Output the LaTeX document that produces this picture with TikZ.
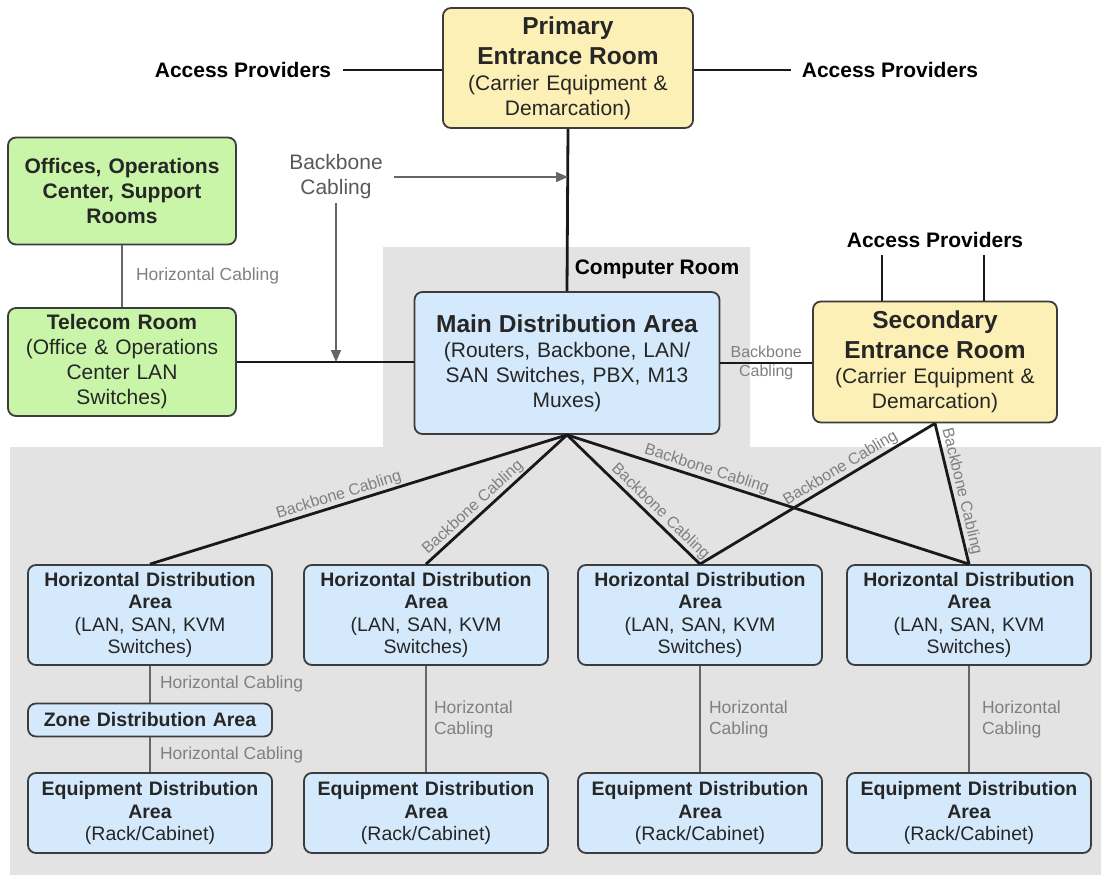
\documentclass[tikz,border=0pt]{standalone}
\usepackage{fontspec}
\setmainfont{Liberation Sans}
\usetikzlibrary{positioning,arrows.meta}

\definecolor{entryyellow}{HTML}{FCF0B6}
\definecolor{officegreen}{HTML}{C9F5A8}
\definecolor{areablue}{HTML}{D4E9FB}
\definecolor{roomgray}{HTML}{E3E3E3}
\definecolor{boxline}{HTML}{3C3C3C}

\newcommand{\ttlfont}{\fontsize{24.5}{30}\selectfont\bfseries}
\newcommand{\midfont}{\fontsize{21}{25}\selectfont}
\newcommand{\smfont}{\fontsize{19.5}{22.5}\selectfont}
\newcommand{\lblfont}{\fontsize{17.5}{21}\selectfont}
\newcommand{\bbfont}{\fontsize{16}{19}\selectfont}

\begin{document}
\begin{tikzpicture}[x=1pt,y=-1pt,
		box/.style={draw=boxline,line width=1.8pt,rounded corners=8pt,inner sep=0pt,align=center,text=black!85},
		entry/.style={box,fill=entryyellow},
		office/.style={box,fill=officegreen,font=\midfont},
		area/.style={box,fill=areablue,text width=244pt,font=\smfont},
		cable/.style={line width=2.8pt,black!90},
		hcable/.style={line width=2.2pt,black!60},
		lbl/.style={text=black!50,inner sep=1pt},
		pointer/.style={line width=1.5pt,black!60,-{Triangle[length=12pt,width=10pt]}}]
		\useasboundingbox (0,0) rectangle (1101,875);
		\fill[roomgray] (10,447) -- (383,447) -- (383,247) -- (750,247) -- (750,447)
			-- (1101,447) -- (1101,875) -- (10,875) -- cycle;

		\node [entry,text width=250pt,minimum height=120pt,font=\midfont] (pri) at (568,68)
			{{\ttlfont Primary\\Entrance Room\par}\vspace{1pt}(Carrier Equipment \&\\Demarcation)};
		\node [font=\bfseries\midfont] (ap1) at (243,70) {Access Providers};
		\node [font=\bfseries\midfont] (ap2) at (890,70) {Access Providers};
		\node [office,text width=228pt,minimum height=107pt,font=\bfseries\midfont] (off) at (122,191)
			{Offices, Operations\\Center, Support\\Rooms};
		\node [office,text width=228pt,minimum height=108pt] (tel) at (122,362)
			{{\bfseries Telecom Room}\\(Office \& Operations\\Center LAN\\Switches)};
		\node [font=\bfseries\midfont] (cr) at (657,269) {Computer Room};
		\node [box,fill=areablue,text width=305pt,minimum height=142pt,font=\midfont] (mda) at (567,363)
			{{\ttlfont Main Distribution Area\par}(Routers, Backbone, LAN/\\SAN Switches, PBX, M13\\Muxes)};
		\node [entry,text width=244pt,minimum height=121pt,font=\midfont] (sec) at (935,362)
			{{\ttlfont Secondary\\Entrance Room\par}(Carrier Equipment \&\\Demarcation)};
		\node [font=\bfseries\midfont] (ap3) at (935,240) {Access Providers};
		\node [align=center,font=\midfont,text=black!65] (bb) at (336,177) {Backbone\\Cabling};

		\node [area,minimum height=100pt] (h1) at (150,615) {{\bfseries Horizontal Distribution\\Area}\\(LAN, SAN, KVM\\Switches)};
		\node [area,minimum height=100pt] (h2) at (426,615) {{\bfseries Horizontal Distribution\\Area}\\(LAN, SAN, KVM\\Switches)};
		\node [area,minimum height=100pt] (h3) at (700,615) {{\bfseries Horizontal Distribution\\Area}\\(LAN, SAN, KVM\\Switches)};
		\node [area,minimum height=100pt] (h4) at (969,615) {{\bfseries Horizontal Distribution\\Area}\\(LAN, SAN, KVM\\Switches)};
		\node [area,minimum height=33pt] (zda) at (150,720) {\bfseries Zone Distribution Area};
		\node [area,minimum height=80pt] (e1) at (150,813) {{\bfseries Equipment Distribution\\Area}\\(Rack/Cabinet)};
		\node [area,minimum height=80pt] (e2) at (426,813) {{\bfseries Equipment Distribution\\Area}\\(Rack/Cabinet)};
		\node [area,minimum height=80pt] (e3) at (700,813) {{\bfseries Equipment Distribution\\Area}\\(Rack/Cabinet)};
		\node [area,minimum height=80pt] (e4) at (969,813) {{\bfseries Equipment Distribution\\Area}\\(Rack/Cabinet)};

		\draw[cable,shorten <=8pt] (ap1.east) -- (ap1.east -| pri.west);
		\draw[cable,shorten <=7pt] (ap2.west) -- (ap2.west -| pri.east);
		\draw[cable] (pri.south) -- (mda.north);
		\draw[cable] (tel.east) -- (tel.east -| mda.west);
		\draw[cable] (mda.east) -- node[lbl,align=center,font=\bbfont] {Backbone\\Cabling} (mda.east -| sec.west);
		\draw[cable,shorten <=4pt] ([xshift=-53pt]ap3.south) -- ([xshift=-53pt]sec.north);
		\draw[cable,shorten <=4pt] ([xshift=49pt]ap3.south) -- ([xshift=49pt]sec.north);
		\draw[hcable] (off.south) -- node[lbl,right=12pt,font=\lblfont] {Horizontal Cabling} (tel.north);
		\draw[pointer,shorten <=8pt] (bb.east) -- (bb.east -| pri.south);
		\draw[pointer] (bb.south) -- (bb.south |- tel.east);

		\draw[cable] (h1.north) -- node[lbl,sloped,above,pos=.46,font=\bbfont] {Backbone Cabling} (mda.south);
		\draw[cable] (h2.north) -- node[lbl,sloped,above,pos=.38,font=\bbfont] {Backbone Cabling} (mda.south);
		\draw[cable] (mda.south) -- node[lbl,sloped,above,pos=.65,font=\bbfont] {Backbone Cabling} (h3.north);
		\draw[cable] (mda.south) -- node[lbl,sloped,above,pos=.34,font=\bbfont] {Backbone Cabling} (h4.north);
		\draw[cable] (h3.north) -- node[lbl,sloped,above,pos=.62,font=\bbfont] {Backbone Cabling} (sec.south);
		\draw[cable] (sec.south) -- node[lbl,sloped,above,pos=.5,font=\bbfont] {Backbone Cabling} (h4.north);

		\draw[hcable] (h1.south) -- node[lbl,right=8pt,font=\lblfont] {Horizontal Cabling} (zda.north);
		\draw[hcable] (zda.south) -- node[lbl,right=8pt,font=\lblfont] {Horizontal Cabling} (e1.north);
		\draw[hcable] (h2.south) -- node[lbl,right=6pt,align=left,font=\lblfont] {Horizontal\\Cabling} (e2.north);
		\draw[hcable] (h3.south) -- node[lbl,right=7pt,align=left,font=\lblfont] {Horizontal\\Cabling} (e3.north);
		\draw[hcable] (h4.south) -- node[lbl,right=11pt,align=left,font=\lblfont] {Horizontal\\Cabling} (e4.north);
	\end{tikzpicture}
\end{document}
